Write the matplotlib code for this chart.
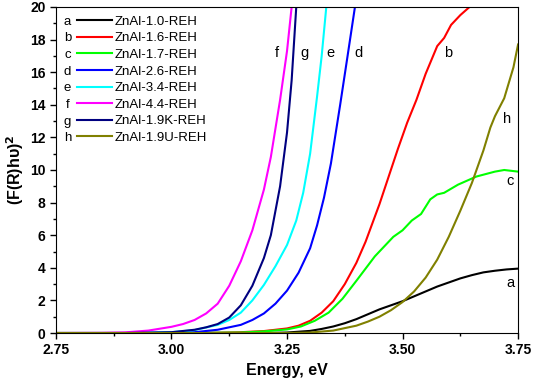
import matplotlib
matplotlib.use('Agg')
import matplotlib.pyplot as plt
from matplotlib.ticker import MultipleLocator, FormatStrFormatter

plt.rcParams['font.family'] = ['Liberation Sans', 'DejaVu Sans']

# Data
a_x = [2.75, 3.00, 3.20, 3.25, 3.30, 3.325, 3.35, 3.375, 3.40, 3.425, 3.45, 3.475, 3.50,
       3.525, 3.55, 3.575, 3.60, 3.625, 3.65, 3.675, 3.70, 3.725, 3.75]
a_y = [0.0, 0.0, 0.0, 0.03, 0.13, 0.25, 0.40, 0.60, 0.85, 1.15, 1.45, 1.70, 1.95,
       2.25, 2.55, 2.85, 3.10, 3.35, 3.55, 3.72, 3.82, 3.90, 3.95]

b_x = [2.75, 3.00, 3.10, 3.15, 3.20, 3.25, 3.275, 3.30, 3.325, 3.35, 3.375, 3.40, 3.42,
       3.45, 3.47, 3.49, 3.51, 3.53, 3.55, 3.575, 3.59, 3.605, 3.625, 3.645]
b_y = [0.0, 0.0, 0.02, 0.05, 0.12, 0.28, 0.45, 0.75, 1.25, 1.95, 3.0, 4.3, 5.6,
       7.9, 9.6, 11.3, 12.9, 14.3, 15.9, 17.6, 18.1, 18.9, 19.5, 20.0]

c_x = [2.75, 3.00, 3.15, 3.20, 3.25, 3.28, 3.31, 3.34, 3.37, 3.40, 3.44, 3.48, 3.50, 3.52,
       3.54, 3.56, 3.575, 3.59, 3.62, 3.66, 3.70, 3.72, 3.75]
c_y = [0.0, 0.0, 0.03, 0.10, 0.22, 0.40, 0.75, 1.25, 2.1, 3.2, 4.7, 5.9, 6.3, 6.9,
       7.3, 8.2, 8.5, 8.6, 9.1, 9.6, 9.9, 10.0, 9.9]

d_x = [2.75, 2.95, 3.05, 3.10, 3.15, 3.175, 3.20, 3.225, 3.25, 3.275, 3.30, 3.315, 3.33,
       3.345, 3.365, 3.38, 3.397]
d_y = [0.0, 0.0, 0.05, 0.20, 0.50, 0.80, 1.2, 1.8, 2.6, 3.7, 5.2, 6.6, 8.3,
       10.4, 14.0, 16.8, 20.0]

e_x = [2.75, 2.90, 3.00, 3.05, 3.10, 3.125, 3.15, 3.175, 3.20, 3.225, 3.25, 3.27, 3.285,
       3.30, 3.315, 3.325, 3.335]
e_y = [0.0, 0.0, 0.05, 0.18, 0.50, 0.80, 1.25, 2.0, 2.95, 4.1, 5.4, 6.9, 8.6,
       11.0, 14.5, 17.0, 20.0]

f_x = [2.75, 2.85, 2.90, 2.95, 3.00, 3.025, 3.05, 3.075, 3.10, 3.125, 3.15, 3.175, 3.20,
       3.215, 3.235, 3.25, 3.26]
f_y = [0.0, 0.01, 0.04, 0.15, 0.38, 0.55, 0.80, 1.2, 1.8, 2.9, 4.4, 6.3, 8.8,
       10.8, 14.3, 17.3, 20.0]

g_x = [2.75, 2.90, 3.00, 3.05, 3.075, 3.10, 3.125, 3.15, 3.175, 3.20, 3.215, 3.235, 3.25,
       3.26, 3.27]
g_y = [0.0, 0.0, 0.05, 0.20, 0.35, 0.55, 0.95, 1.7, 2.9, 4.6, 6.0, 9.0, 12.3,
       15.5, 20.0]

h_x = [2.75, 3.20, 3.25, 3.30, 3.35, 3.40, 3.425, 3.45, 3.475, 3.50, 3.525, 3.55, 3.575,
       3.60, 3.625, 3.65, 3.675, 3.69, 3.70, 3.72, 3.74, 3.75]
h_y = [0.0, 0.0, 0.0, 0.03, 0.15, 0.45, 0.70, 1.0, 1.4, 1.9, 2.55, 3.4, 4.5,
       5.9, 7.5, 9.2, 11.2, 12.6, 13.3, 14.4, 16.3, 17.7]

letters = ['a', 'b', 'c', 'd', 'e', 'f', 'g', 'h']
names = ['ZnAl-1.0-REH', 'ZnAl-1.6-REH', 'ZnAl-1.7-REH', 'ZnAl-2.6-REH',
         'ZnAl-3.4-REH', 'ZnAl-4.4-REH', 'ZnAl-1.9K-REH', 'ZnAl-1.9U-REH']
colors = ['#000000', '#ff0000', '#00ff00', '#0000ff', '#00ffff', '#ff00ff', '#000080', '#808000']
xs = [a_x, b_x, c_x, d_x, e_x, f_x, g_x, h_x]
ys = [a_y, b_y, c_y, d_y, e_y, f_y, g_y, h_y]

# curve labels on the plot
label_x = [3.733, 3.598, 3.733, 3.404, 3.343, 3.228, 3.287, 3.726]
label_y = [3.05, 17.2, 9.3, 17.2, 17.2, 17.2, 17.2, 13.1]

fig = plt.figure(figsize=(5.33, 3.87), dpi=100)
ax = fig.add_axes([0.105, 0.1395, 0.867, 0.8425])

for x, y, c, n in zip(xs, ys, colors, names):
    ax.plot(x, y, color=c, linewidth=1.5, label=n)

for lt, lx, ly in zip(letters, label_x, label_y):
    ax.text(lx, ly, lt, fontsize=10.5, ha='center', va='center')

leg = ax.legend(loc='upper left', bbox_to_anchor=(0.028, 1.0), frameon=False,
                fontsize=9.5, handlelength=2.6, handletextpad=0.25,
                labelspacing=0.33, borderaxespad=0.25)
for i, lt in enumerate(letters):
    ax.text(0.025, 0.955 - i * 0.0512, lt, transform=ax.transAxes,
            fontsize=9.5, ha='center', va='center')

ax.set_xlim(2.75, 3.75)
ax.set_ylim(0, 20)
ax.xaxis.set_major_locator(MultipleLocator(0.25))
ax.xaxis.set_minor_locator(MultipleLocator(0.125))
ax.yaxis.set_major_locator(MultipleLocator(2))
ax.yaxis.set_minor_locator(MultipleLocator(1))
ax.xaxis.set_major_formatter(FormatStrFormatter('%.2f'))
ax.tick_params(which='major', direction='out', length=4, width=1, labelsize=10)
ax.tick_params(which='minor', direction='out', length=2.5, width=1)
for lbl in ax.get_xticklabels() + ax.get_yticklabels():
    lbl.set_fontweight('bold')

ax.set_xlabel('Energy, eV', fontsize=11.5, fontweight='bold')
ax.set_ylabel(r'(F(R)hυ)$^{\mathbf{2}}$', fontsize=11.5, fontweight='bold', labelpad=3)

fig.savefig('out.png', dpi=100)
